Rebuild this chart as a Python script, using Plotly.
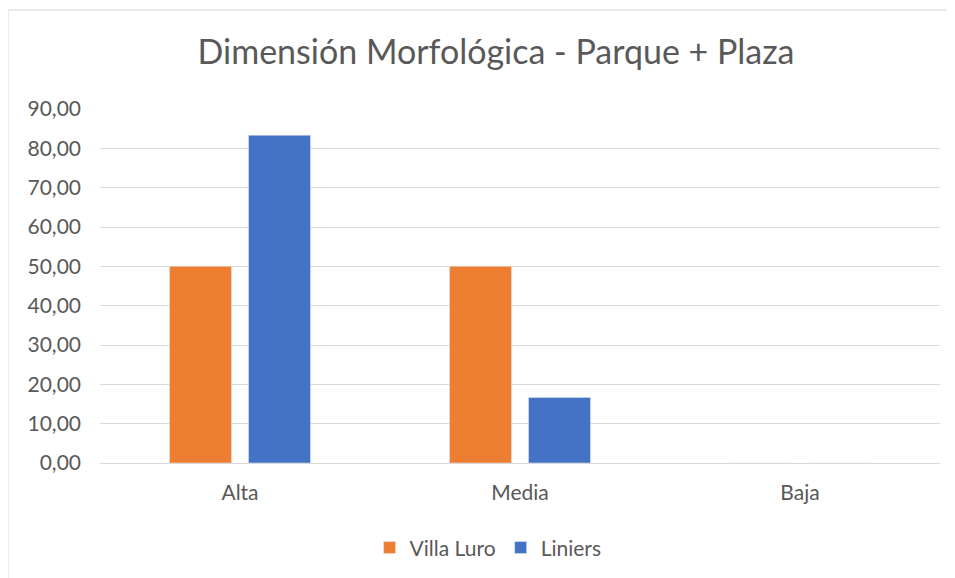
import plotly.graph_objects as go

categories = ["Alta", "Media", "Baja"]
villa_luro = [50.00, 50.00, 0.00]
liniers = [83.33, 16.67, 0.00]
y_ticks = [0, 10, 20, 30, 40, 50, 60, 70, 80, 90]

grey_text = "#595959"
font_family = "Lato, 'Open Sans', sans-serif"

fig = go.Figure()
fig.add_bar(x=categories, y=villa_luro, name="Villa Luro", marker_color="#ED7D31")
fig.add_bar(x=categories, y=liniers, name="Liniers", marker_color="#4472C4")

# page body has an 8px margin, so margins are shifted to land the plot where the reference has it
fig.update_layout(
    width=955,
    height=578,
    barmode="group",
    bargap=0.436,
    bargroupgap=0.215,
    separators=",.",
    plot_bgcolor="white",
    paper_bgcolor="white",
    font=dict(family=font_family, color=grey_text, size=21),
    title=dict(
        text="Dimensión Morfológica - Parque + Plaza",
        x=0.511,
        xanchor="center",
        y=0.924,
        yanchor="middle",
        font=dict(size=34, color=grey_text, family=font_family),
    ),
    margin=dict(l=92, r=23, t=101, b=123),
    legend=dict(
        orientation="h",
        x=0.462,
        xanchor="center",
        y=-0.24,
        yanchor="middle",
        font=dict(size=21, color=grey_text),
        itemwidth=30,
    ),
    xaxis=dict(
        range=[-0.5, 2.5],
        showgrid=False,
        showline=False,
        ticks="outside",
        ticklen=11,
        tickcolor="rgba(0,0,0,0)",
        tickfont=dict(size=21, color=grey_text),
    ),
    yaxis=dict(
        range=[0, 90],
        tickvals=y_ticks,
        tickformat=".2f",
        showgrid=True,
        gridcolor="#D9D9D9",
        gridwidth=1,
        zeroline=True,
        zerolinecolor="#D9D9D9",
        zerolinewidth=1,
        showline=False,
        ticklabelstandoff=18,
        tickfont=dict(size=21, color=grey_text),
    ),
    shapes=[
        dict(
            type="rect",
            xref="paper",
            yref="paper",
            x0=-0.1095,
            x1=1.1,
            y0=-0.5,
            y1=1.2797,
            line=dict(color="#D9D9D9", width=1),
            fillcolor="rgba(0,0,0,0)",
            layer="below",
        )
    ],
)

fig.write_html("out.html")
